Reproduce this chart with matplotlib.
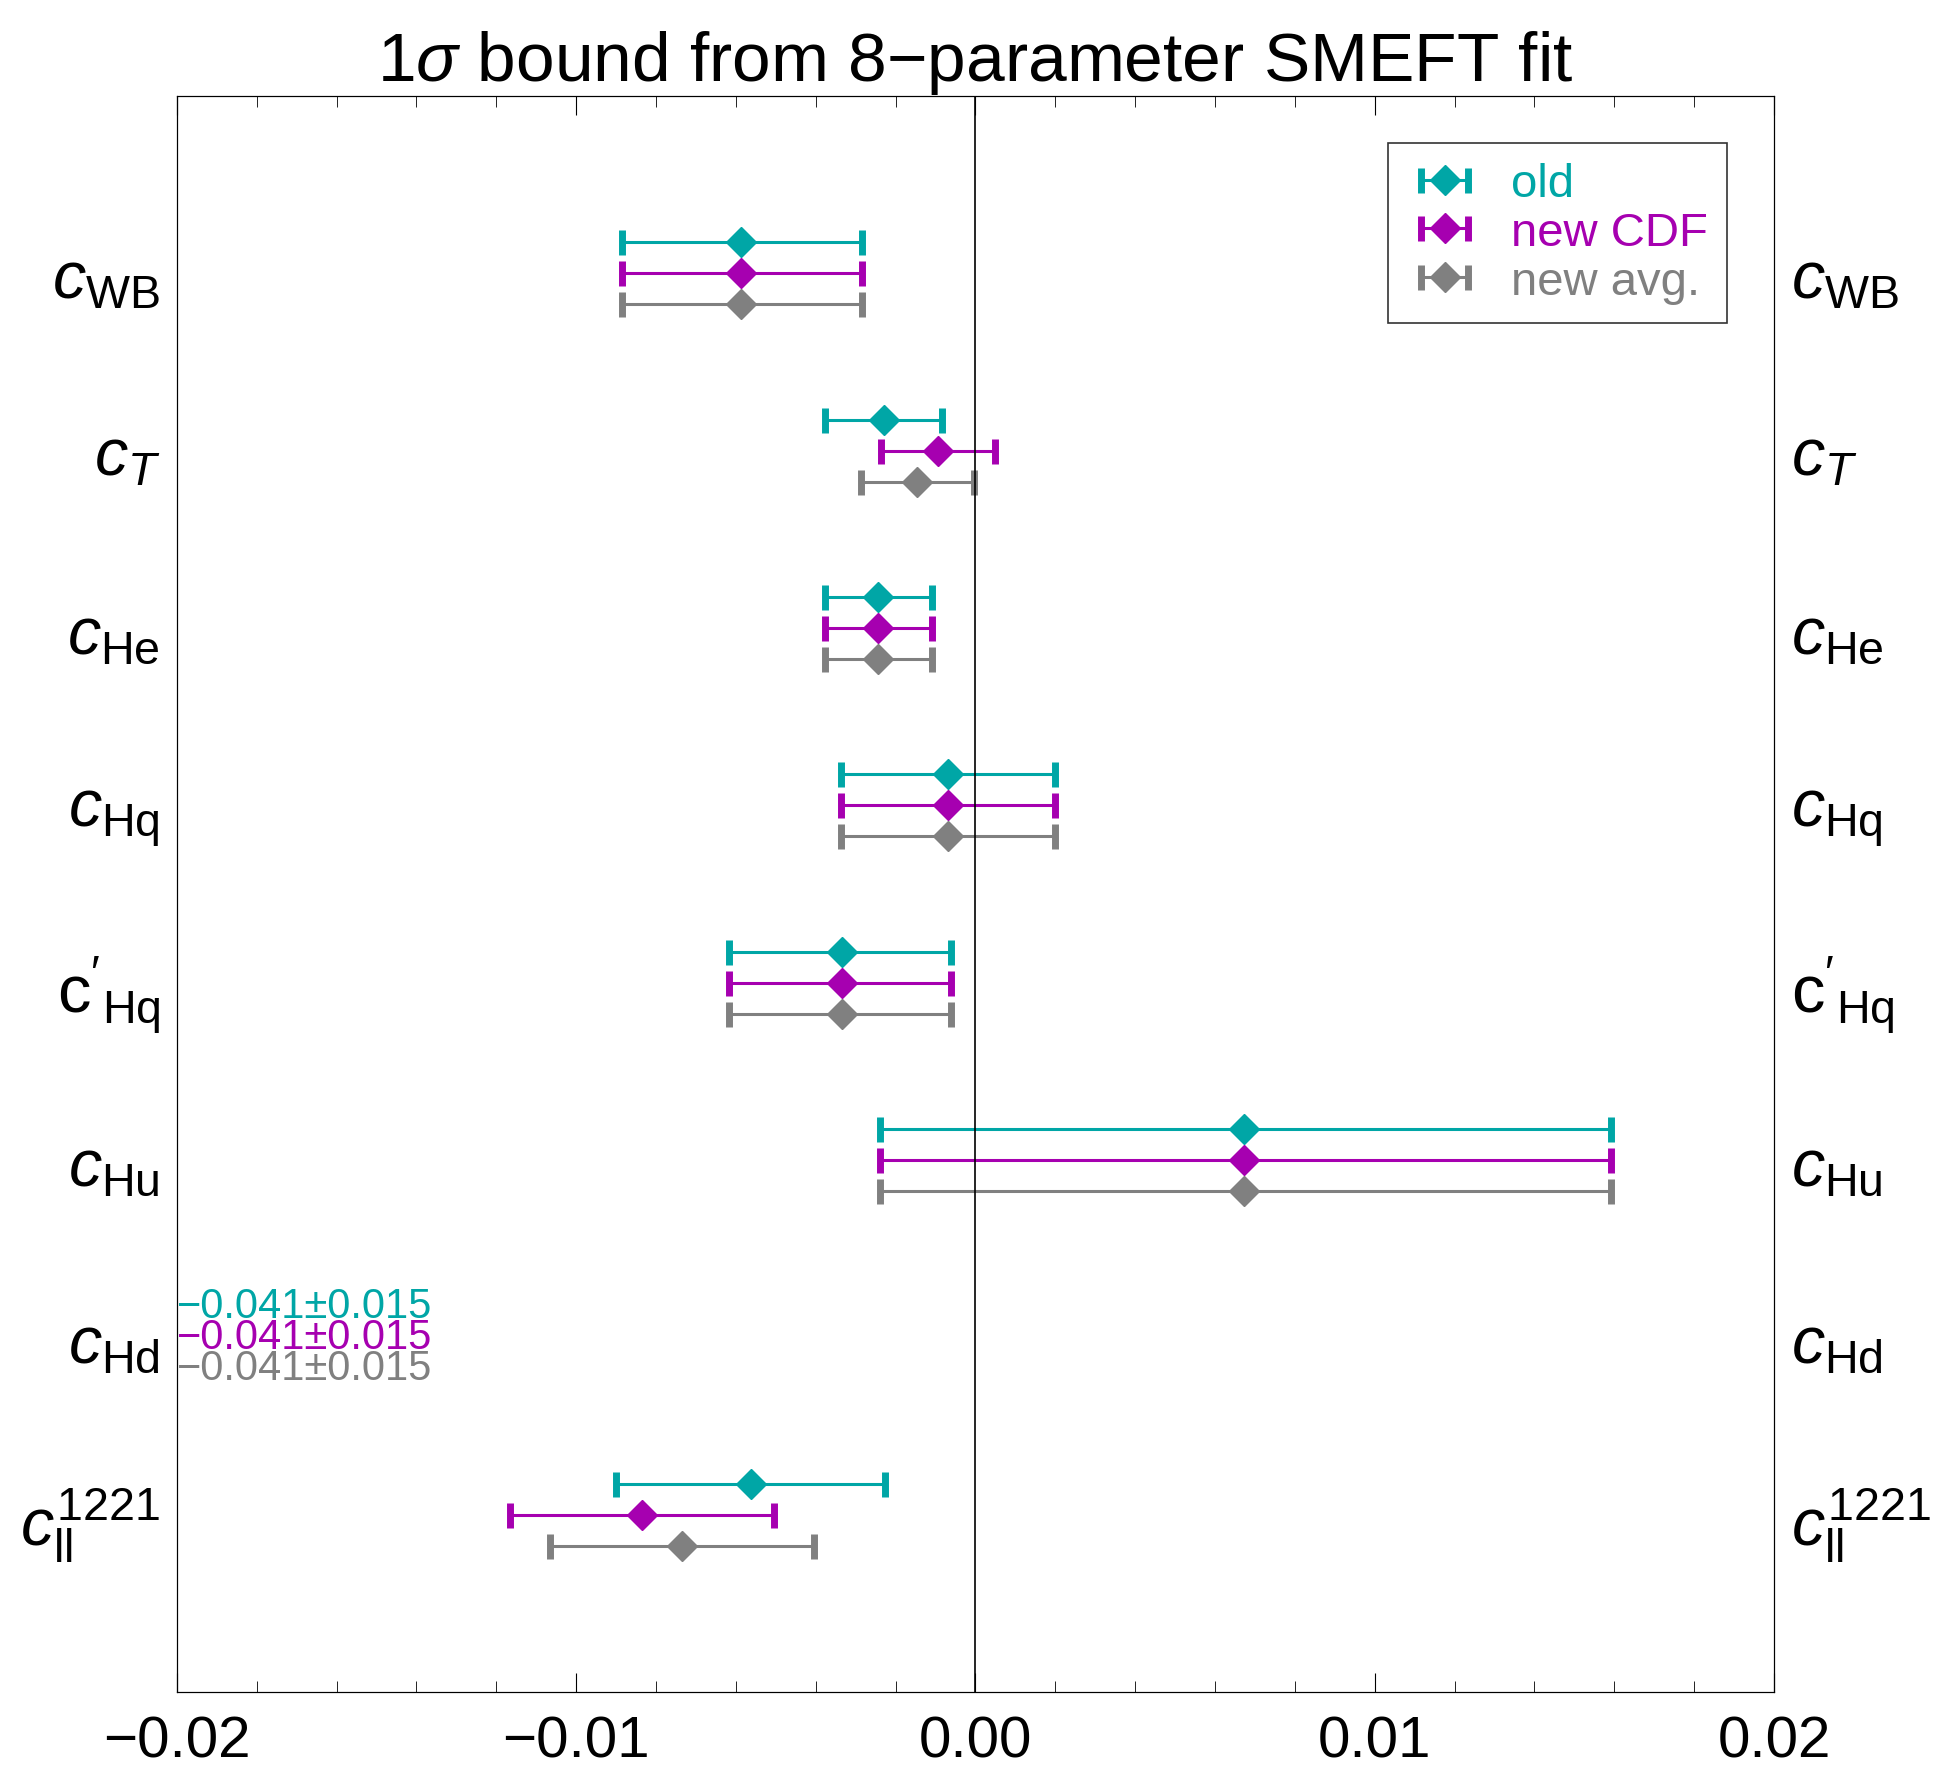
import matplotlib
matplotlib.use("Agg")
import matplotlib.pyplot as plt
from matplotlib.ticker import MultipleLocator
import numpy as np

plt.rcParams["font.family"] = ["Liberation Sans", "DejaVu Sans"]
plt.rcParams["mathtext.fontset"] = "custom"
plt.rcParams["mathtext.rm"] = "Liberation Sans"
plt.rcParams["mathtext.it"] = "Liberation Sans:italic"

labels = [r"$c_{\mathrm{WB}}$", r"$c_{T}$", r"$c_{\mathrm{He}}$", r"$c_{\mathrm{Hq}}$",
          r"$\mathrm{c'}_{\mathrm{Hq}}$", r"$c_{\mathrm{Hu}}$", r"$c_{\mathrm{Hd}}$", r"$c_{\mathrm{ll}}^{1221}$"]
series = ["old", "new CDF", "new avg."]
colors = ["#00a6a6", "#a600b0", "#808080"]

# central values, lower and upper ends (NaN = off-plot, cHd)
old_c = [-0.00586, -0.00230, -0.00243, -0.00069, -0.00333, 0.00673, np.nan, -0.00561]
old_lo = [-0.00885, -0.00377, -0.00377, -0.00336, -0.00617, -0.00240, np.nan, -0.00900]
old_hi = [-0.00284, -0.00084, -0.00109, 0.00200, -0.00062, 0.01592, np.nan, -0.00227]
cdf_c = [-0.00586, -0.00093, -0.00243, -0.00069, -0.00333, 0.00673, np.nan, -0.00835]
cdf_lo = [-0.00885, -0.00237, -0.00377, -0.00336, -0.00617, -0.00240, np.nan, -0.01165]
cdf_hi = [-0.00284, 0.00050, -0.00109, 0.00200, -0.00062, 0.01592, np.nan, -0.00505]
avg_c = [-0.00586, -0.00146, -0.00243, -0.00069, -0.00333, 0.00673, np.nan, -0.00735]
avg_lo = [-0.00885, -0.00287, -0.00377, -0.00336, -0.00617, -0.00240, np.nan, -0.01065]
avg_hi = [-0.00284, -0.00003, -0.00109, 0.00200, -0.00062, 0.01592, np.nan, -0.00405]
hd_text = ["\u22120.041\u00b10.015"] * 3
xticks = [-0.02, -0.01, 0.0, 0.01, 0.02]
xticklabels = ["\u22120.02", "\u22120.01", "0.00", "0.01", "0.02"]

data = [(old_c, old_lo, old_hi), (cdf_c, cdf_lo, cdf_hi), (avg_c, avg_lo, avg_hi)]
offsets = [-0.175, 0.0, 0.175]

fig = plt.figure(figsize=(19.43, 17.81), dpi=100)
ax = fig.add_axes([0.091, 0.0494, 0.822, 0.8961])
rows = np.arange(len(labels))

for (c, lo, hi), col, off, name in zip(data, colors, offsets, series):
    c = np.array(c); lo = np.array(lo); hi = np.array(hi)
    ax.errorbar(c, rows + off, xerr=[c - lo, hi - c], fmt="D", color=col, ms=15,
                capsize=9, capthick=5, elinewidth=2.2, label=name)

for t, col, off in zip(hd_text, colors, offsets):
    ax.text(-0.02, 6 + off, t, color=col, fontsize=30, va="center", ha="left")

ax.axvline(0, color="black", lw=1.2)
ax.set_xlim(-0.02, 0.02)
ax.set_ylim(8, -1)
ax.set_yticks(rows)
ax.set_yticklabels(labels, fontsize=48)
ax.tick_params(axis="y", length=0, pad=12)
ax.set_xticks(xticks)
ax.set_xticklabels(xticklabels)
ax.xaxis.set_minor_locator(MultipleLocator(0.002))
ax.tick_params(axis="x", which="major", labelsize=42, direction="in", length=14, top=True, pad=16)
ax.tick_params(axis="x", which="minor", direction="in", length=8, top=True)

axr = ax.twinx()
axr.set_ylim(8, -1)
axr.set_yticks(rows)
axr.set_yticklabels(labels, fontsize=48)
axr.tick_params(axis="y", length=0, pad=12)

ax.set_title(r"1$\sigma$ bound from 8$-$parameter SMEFT fit", fontsize=50, pad=10)

leg = ax.legend(loc="upper right", fontsize=34, frameon=True, fancybox=False,
                edgecolor="black", handlelength=1.6, handletextpad=0.6,
                borderaxespad=1.0, labelspacing=0.1)
leg.get_frame().set_linewidth(1.2)
for txt, col in zip(leg.get_texts(), colors):
    txt.set_color(col)

fig.savefig("out.png", dpi=100)
